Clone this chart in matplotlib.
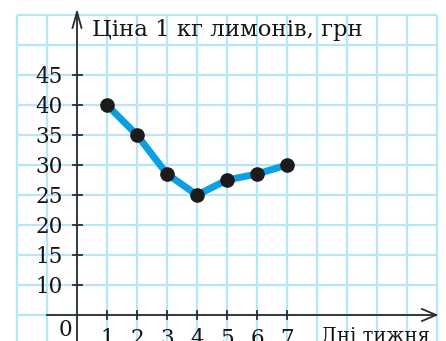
import matplotlib
matplotlib.use("Agg")
import matplotlib.pyplot as plt

# Price of 1 kg of lemons over the days of the week
days = [1, 2, 3, 4, 5, 6, 7]
prices = [40, 35, 28.5, 25, 27.5, 28.5, 30]
y_tick_values = [10, 15, 20, 25, 30, 35, 40, 45]
x_tick_labels = ["1", "2", "3", "4", "5", "6", "7"]
title_text = "Ціна 1 кг лимонів, грн"
x_axis_text = "Дні тижня"

GRID = "#b9e5f8"
LINE = "#0aa0e2"
AXIS = "#2b2b2b"
INK = "#151515"
FONT = "DejaVu Serif"
FS = 15.5


def pos(v):
    # broken axis: 0 sits one cell below 10, then 5 units per cell
    return 0.0 if v == 0 else (v - 5) / 5.0


fig = plt.figure(figsize=(4.46, 3.41), dpi=100)
ax = fig.add_axes([0, 0, 1, 1])
ax.set_xlim(-2.567, 12.3)
ax.set_ylim(-0.867, 10.5)
ax.axis("off")
fig.patch.set_facecolor("white")
renderer = fig.canvas.get_renderer()


def fit_width(txt, width_px):
    # scale a text's font size so it spans the given width in pixels
    w = txt.get_window_extent(renderer=renderer).width
    txt.set_fontsize(txt.get_fontsize() * width_px / w)


# squared paper
for gx in range(-2, 13):
    ax.plot([gx, gx], [-1.5, 10], color=GRID, lw=1.6, zorder=1, solid_capstyle="butt")
for gy in range(-1, 11):
    ax.plot([-2, 12], [gy, gy], color=GRID, lw=1.6, zorder=1, solid_capstyle="butt")

# axes with open arrowheads
ax.plot([-1, 11.97], [0, 0], color=AXIS, lw=1.3, zorder=3)
ax.plot([11.5, 11.97, 11.5], [0.2, 0, -0.2], color=AXIS, lw=1.3, zorder=3)
ax.plot([0, 0], [-1.5, 10.1], color=AXIS, lw=1.3, zorder=3)
ax.plot([-0.15, 0, 0.15], [9.57, 10.1, 9.57], color=AXIS, lw=1.3, zorder=3)

# ticks and labels
for v in y_tick_values:
    gy = pos(v)
    ax.plot([-0.15, 0.17], [gy, gy], color=AXIS, lw=1.3, zorder=3)
    ax.text(-0.47, gy - 0.27, str(v), ha="right", va="baseline",
            fontsize=FS, family=FONT, color=INK)
for d, lab in zip(days, x_tick_labels):
    ax.plot([d, d], [-0.13, 0.12], color=AXIS, lw=1.3, zorder=3)
    ax.text(d, -1.0, lab, ha="center", va="baseline",
            fontsize=FS, family=FONT, color=INK)
ax.text(-0.17, -0.7, "0", ha="right", va="baseline",
        fontsize=FS, family=FONT, color=INK)

title = ax.text(0.5, 9.3, title_text, ha="left", va="baseline",
                fontsize=FS, family=FONT, color=INK)
fit_width(title, 271)
xlab = ax.text(8.13, -0.9, x_axis_text, ha="left", va="baseline",
               fontsize=FS, family=FONT, color=INK)
fit_width(xlab, 109)

# price line
ys = [pos(p) for p in prices]
ax.plot(days, ys, color=LINE, lw=5.0, zorder=4, solid_capstyle="round")
ax.plot(days, ys, "o", color="#1b1b1b", ms=9.5, zorder=5)

fig.savefig("out.png", dpi=100)
